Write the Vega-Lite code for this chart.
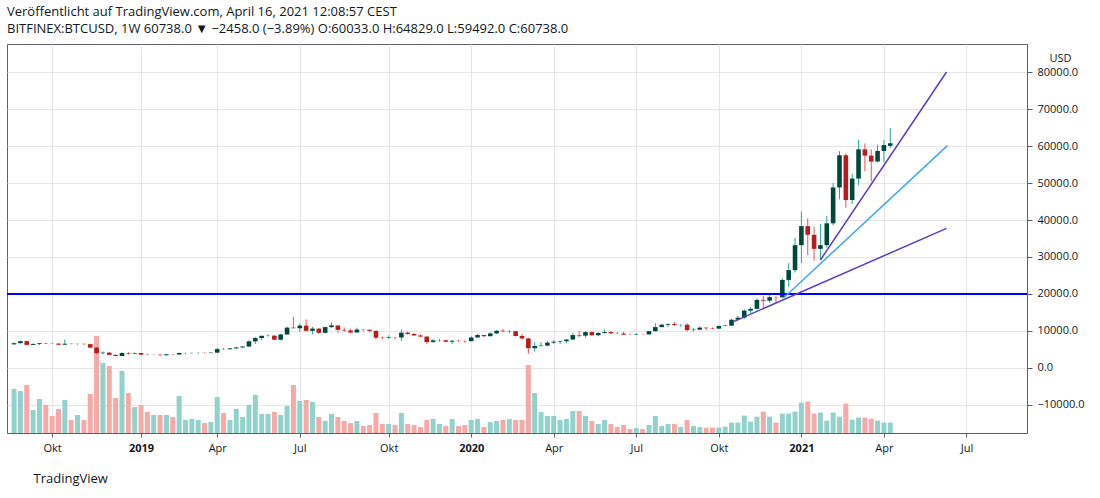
{
  "$schema": "https://vega.github.io/schema/vega-lite/v6.json",
  "description": "BITFINEX:BTCUSD weekly candles with volume, 20000 level and three trend lines",
  "width": 1020,
  "height": 389,
  "autosize": "none",
  "padding": {"left": 7, "top": 44, "right": 73, "bottom": 65},
  "background": "white",
  "config": {
    "font": "Open Sans",
    "view": {"stroke": "#5d606b", "strokeWidth": 1},
    "axis": {"labelFont": "Open Sans", "titleFont": "Open Sans", "labelColor": "#131722", "titleColor": "#131722"}
  },
  "title": {
    "text": "Veröffentlicht auf TradingView.com, April 16, 2021 12:08:57 CEST",
    "subtitle": "BITFINEX:BTCUSD, 1W  60738.0 ▼ −2458.0 (−3.89%)  O:60033.0  H:64829.0  L:59492.0  C:60738.0",
    "anchor": "start",
    "frame": "group",
    "offset": 8,
    "fontSize": 13,
    "fontWeight": "normal",
    "color": "#131722",
    "subtitleFontSize": 13,
    "subtitleFontWeight": "normal",
    "subtitleColor": "#131722",
    "subtitlePadding": 4
  },
  "data": {
    "values": [
      {"date": "2018-08-20", "open": 6400, "high": 6900, "low": 6300, "close": 6700, "volume": 220000},
      {"date": "2018-08-27", "open": 6700, "high": 7400, "low": 6650, "close": 7250, "volume": 210000},
      {"date": "2018-09-03", "open": 7250, "high": 7400, "low": 6100, "close": 6250, "volume": 240000},
      {"date": "2018-09-10", "open": 6250, "high": 6600, "low": 6150, "close": 6500, "volume": 115000},
      {"date": "2018-09-17", "open": 6500, "high": 6800, "low": 6200, "close": 6700, "volume": 170000},
      {"date": "2018-09-24", "open": 6700, "high": 6850, "low": 6500, "close": 6620, "volume": 140000},
      {"date": "2018-10-01", "open": 6620, "high": 6700, "low": 6500, "close": 6580, "volume": 85000},
      {"date": "2018-10-08", "open": 6580, "high": 6700, "low": 6150, "close": 6300, "volume": 120000},
      {"date": "2018-10-15", "open": 6300, "high": 7700, "low": 6300, "close": 6550, "volume": 165000},
      {"date": "2018-10-22", "open": 6550, "high": 6600, "low": 6400, "close": 6480, "volume": 65000},
      {"date": "2018-10-29", "open": 6480, "high": 6550, "low": 6300, "close": 6520, "volume": 90000},
      {"date": "2018-11-05", "open": 6520, "high": 6600, "low": 6300, "close": 6450, "volume": 65000},
      {"date": "2018-11-12", "open": 6450, "high": 6550, "low": 5300, "close": 5500, "volume": 195000},
      {"date": "2018-11-19", "open": 5500, "high": 5650, "low": 3700, "close": 4000, "volume": 485000},
      {"date": "2018-11-26", "open": 4000, "high": 4500, "low": 3650, "close": 4150, "volume": 350000},
      {"date": "2018-12-03", "open": 4150, "high": 4350, "low": 3450, "close": 3550, "volume": 335000},
      {"date": "2018-12-10", "open": 3550, "high": 3650, "low": 3200, "close": 3250, "volume": 175000},
      {"date": "2018-12-17", "open": 3250, "high": 4250, "low": 3250, "close": 4050, "volume": 310000},
      {"date": "2018-12-24", "open": 4050, "high": 4250, "low": 3600, "close": 3900, "volume": 200000},
      {"date": "2018-12-31", "open": 3900, "high": 4150, "low": 3700, "close": 4050, "volume": 130000},
      {"date": "2019-01-07", "open": 4050, "high": 4100, "low": 3500, "close": 3600, "volume": 140000},
      {"date": "2019-01-14", "open": 3600, "high": 3750, "low": 3500, "close": 3560, "volume": 105000},
      {"date": "2019-01-21", "open": 3560, "high": 3650, "low": 3450, "close": 3580, "volume": 90000},
      {"date": "2019-01-28", "open": 3580, "high": 3650, "low": 3350, "close": 3450, "volume": 90000},
      {"date": "2019-02-04", "open": 3450, "high": 3750, "low": 3400, "close": 3700, "volume": 90000},
      {"date": "2019-02-11", "open": 3700, "high": 3750, "low": 3600, "close": 3650, "volume": 80000},
      {"date": "2019-02-18", "open": 3650, "high": 4200, "low": 3600, "close": 4050, "volume": 185000},
      {"date": "2019-02-25", "open": 4050, "high": 4100, "low": 3700, "close": 4060, "volume": 65000},
      {"date": "2019-03-04", "open": 4060, "high": 4100, "low": 3800, "close": 4080, "volume": 70000},
      {"date": "2019-03-11", "open": 4080, "high": 4200, "low": 3850, "close": 4100, "volume": 65000},
      {"date": "2019-03-18", "open": 4100, "high": 4150, "low": 3950, "close": 4050, "volume": 50000},
      {"date": "2019-03-25", "open": 4050, "high": 4200, "low": 3900, "close": 4150, "volume": 55000},
      {"date": "2019-04-01", "open": 4150, "high": 5450, "low": 4100, "close": 5100, "volume": 180000},
      {"date": "2019-04-08", "open": 5100, "high": 5450, "low": 4950, "close": 5050, "volume": 100000},
      {"date": "2019-04-15", "open": 5050, "high": 5400, "low": 5000, "close": 5300, "volume": 65000},
      {"date": "2019-04-22", "open": 5300, "high": 5650, "low": 5100, "close": 5550, "volume": 120000},
      {"date": "2019-04-29", "open": 5550, "high": 5900, "low": 5450, "close": 5800, "volume": 80000},
      {"date": "2019-05-06", "open": 5800, "high": 7500, "low": 5750, "close": 7200, "volume": 140000},
      {"date": "2019-05-13", "open": 7200, "high": 8350, "low": 6500, "close": 8100, "volume": 190000},
      {"date": "2019-05-20", "open": 8100, "high": 8750, "low": 7600, "close": 8700, "volume": 95000},
      {"date": "2019-05-27", "open": 8700, "high": 9100, "low": 8500, "close": 8750, "volume": 95000},
      {"date": "2019-06-03", "open": 8750, "high": 8800, "low": 7500, "close": 7650, "volume": 105000},
      {"date": "2019-06-10", "open": 7650, "high": 9300, "low": 7500, "close": 9050, "volume": 90000},
      {"date": "2019-06-17", "open": 9050, "high": 11200, "low": 9050, "close": 10900, "volume": 135000},
      {"date": "2019-06-24", "open": 10900, "high": 13850, "low": 10700, "close": 10750, "volume": 240000},
      {"date": "2019-07-01", "open": 10750, "high": 12000, "low": 9800, "close": 11450, "volume": 160000},
      {"date": "2019-07-08", "open": 11450, "high": 13150, "low": 9900, "close": 10050, "volume": 165000},
      {"date": "2019-07-15", "open": 10050, "high": 11100, "low": 9100, "close": 10650, "volume": 155000},
      {"date": "2019-07-22", "open": 10650, "high": 10700, "low": 9200, "close": 9500, "volume": 80000},
      {"date": "2019-07-29", "open": 9500, "high": 11200, "low": 9400, "close": 11050, "volume": 60000},
      {"date": "2019-08-05", "open": 11050, "high": 12300, "low": 10800, "close": 11500, "volume": 95000},
      {"date": "2019-08-12", "open": 11500, "high": 11500, "low": 9500, "close": 10300, "volume": 80000},
      {"date": "2019-08-19", "open": 10300, "high": 10950, "low": 9800, "close": 10150, "volume": 60000},
      {"date": "2019-08-26", "open": 10150, "high": 10600, "low": 9350, "close": 9600, "volume": 50000},
      {"date": "2019-09-02", "open": 9600, "high": 10900, "low": 9600, "close": 10400, "volume": 60000},
      {"date": "2019-09-09", "open": 10400, "high": 10500, "low": 9900, "close": 10350, "volume": 35000},
      {"date": "2019-09-16", "open": 10350, "high": 10400, "low": 9600, "close": 10050, "volume": 40000},
      {"date": "2019-09-23", "open": 10050, "high": 10050, "low": 7700, "close": 8200, "volume": 100000},
      {"date": "2019-09-30", "open": 8200, "high": 8500, "low": 7800, "close": 8150, "volume": 45000},
      {"date": "2019-10-07", "open": 8150, "high": 8800, "low": 7900, "close": 8300, "volume": 45000},
      {"date": "2019-10-14", "open": 8300, "high": 8400, "low": 7900, "close": 8250, "volume": 40000},
      {"date": "2019-10-21", "open": 8250, "high": 10400, "low": 7300, "close": 9550, "volume": 100000},
      {"date": "2019-10-28", "open": 9550, "high": 9900, "low": 9000, "close": 9200, "volume": 45000},
      {"date": "2019-11-04", "open": 9200, "high": 9500, "low": 8700, "close": 8800, "volume": 40000},
      {"date": "2019-11-11", "open": 8800, "high": 9100, "low": 8300, "close": 8500, "volume": 30000},
      {"date": "2019-11-18", "open": 8500, "high": 8500, "low": 6500, "close": 7000, "volume": 65000},
      {"date": "2019-11-25", "open": 7000, "high": 7800, "low": 6850, "close": 7450, "volume": 70000},
      {"date": "2019-12-02", "open": 7450, "high": 7800, "low": 7100, "close": 7500, "volume": 45000},
      {"date": "2019-12-09", "open": 7500, "high": 7650, "low": 6950, "close": 7100, "volume": 35000},
      {"date": "2019-12-16", "open": 7100, "high": 7550, "low": 6450, "close": 7350, "volume": 70000},
      {"date": "2019-12-23", "open": 7350, "high": 7650, "low": 7100, "close": 7300, "volume": 35000},
      {"date": "2019-12-30", "open": 7300, "high": 7500, "low": 6850, "close": 7250, "volume": 40000},
      {"date": "2020-01-06", "open": 7250, "high": 8550, "low": 7250, "close": 8250, "volume": 65000},
      {"date": "2020-01-13", "open": 8250, "high": 9200, "low": 8200, "close": 8900, "volume": 70000},
      {"date": "2020-01-20", "open": 8900, "high": 8950, "low": 8300, "close": 8600, "volume": 30000},
      {"date": "2020-01-27", "open": 8600, "high": 9600, "low": 8500, "close": 9350, "volume": 55000},
      {"date": "2020-02-03", "open": 9350, "high": 10200, "low": 9200, "close": 10050, "volume": 60000},
      {"date": "2020-02-10", "open": 10050, "high": 10500, "low": 9650, "close": 9900, "volume": 65000},
      {"date": "2020-02-17", "open": 9900, "high": 10250, "low": 9300, "close": 9950, "volume": 70000},
      {"date": "2020-02-24", "open": 9950, "high": 10050, "low": 8500, "close": 8650, "volume": 65000},
      {"date": "2020-03-02", "open": 8650, "high": 9200, "low": 7650, "close": 8000, "volume": 65000},
      {"date": "2020-03-09", "open": 8000, "high": 8150, "low": 3850, "close": 5350, "volume": 340000},
      {"date": "2020-03-16", "open": 5350, "high": 6950, "low": 4400, "close": 5950, "volume": 200000},
      {"date": "2020-03-23", "open": 5950, "high": 7000, "low": 5700, "close": 6050, "volume": 105000},
      {"date": "2020-03-30", "open": 6050, "high": 7350, "low": 5900, "close": 6850, "volume": 85000},
      {"date": "2020-04-06", "open": 6850, "high": 7500, "low": 6500, "close": 7100, "volume": 85000},
      {"date": "2020-04-13", "open": 7100, "high": 7300, "low": 6500, "close": 7250, "volume": 65000},
      {"date": "2020-04-20", "open": 7250, "high": 7800, "low": 6800, "close": 7700, "volume": 70000},
      {"date": "2020-04-27", "open": 7700, "high": 9500, "low": 7650, "close": 8900, "volume": 110000},
      {"date": "2020-05-04", "open": 8900, "high": 10050, "low": 8250, "close": 8750, "volume": 110000},
      {"date": "2020-05-11", "open": 8750, "high": 9950, "low": 8250, "close": 9700, "volume": 85000},
      {"date": "2020-05-18", "open": 9700, "high": 9900, "low": 8650, "close": 8850, "volume": 60000},
      {"date": "2020-05-25", "open": 8850, "high": 9750, "low": 8650, "close": 9450, "volume": 45000},
      {"date": "2020-06-01", "open": 9450, "high": 10400, "low": 9300, "close": 9700, "volume": 65000},
      {"date": "2020-06-08", "open": 9700, "high": 10000, "low": 9200, "close": 9350, "volume": 45000},
      {"date": "2020-06-15", "open": 9350, "high": 9750, "low": 9100, "close": 9300, "volume": 30000},
      {"date": "2020-06-22", "open": 9300, "high": 9800, "low": 8900, "close": 9000, "volume": 40000},
      {"date": "2020-06-29", "open": 9000, "high": 9350, "low": 8950, "close": 8980, "volume": 20000},
      {"date": "2020-07-06", "open": 8980, "high": 9450, "low": 8950, "close": 9100, "volume": 25000},
      {"date": "2020-07-13", "open": 9100, "high": 9250, "low": 9050, "close": 9080, "volume": 20000},
      {"date": "2020-07-20", "open": 9080, "high": 10000, "low": 9050, "close": 9950, "volume": 40000},
      {"date": "2020-07-27", "open": 9950, "high": 12100, "low": 9850, "close": 11050, "volume": 85000},
      {"date": "2020-08-03", "open": 11050, "high": 11900, "low": 11000, "close": 11700, "volume": 35000},
      {"date": "2020-08-10", "open": 11700, "high": 12100, "low": 11100, "close": 11900, "volume": 45000},
      {"date": "2020-08-17", "open": 11900, "high": 12450, "low": 11350, "close": 11650, "volume": 45000},
      {"date": "2020-08-24", "open": 11650, "high": 11800, "low": 11100, "close": 11700, "volume": 30000},
      {"date": "2020-08-31", "open": 11700, "high": 12100, "low": 9900, "close": 10250, "volume": 65000},
      {"date": "2020-09-07", "open": 10250, "high": 10800, "low": 9850, "close": 10350, "volume": 35000},
      {"date": "2020-09-14", "open": 10350, "high": 11200, "low": 10200, "close": 10900, "volume": 30000},
      {"date": "2020-09-21", "open": 10900, "high": 10950, "low": 10150, "close": 10750, "volume": 27000},
      {"date": "2020-09-28", "open": 10750, "high": 10950, "low": 10450, "close": 10650, "volume": 27000},
      {"date": "2020-10-05", "open": 10650, "high": 11500, "low": 10550, "close": 11350, "volume": 27000},
      {"date": "2020-10-12", "open": 11350, "high": 11700, "low": 11200, "close": 11450, "volume": 32000},
      {"date": "2020-10-19", "open": 11450, "high": 13250, "low": 11400, "close": 13050, "volume": 52000},
      {"date": "2020-10-26", "open": 13050, "high": 14100, "low": 12900, "close": 13600, "volume": 52000},
      {"date": "2020-11-02", "open": 13600, "high": 15950, "low": 13250, "close": 15500, "volume": 87000},
      {"date": "2020-11-09", "open": 15500, "high": 16500, "low": 14800, "close": 16000, "volume": 57000},
      {"date": "2020-11-16", "open": 16000, "high": 18800, "low": 15800, "close": 18400, "volume": 82000},
      {"date": "2020-11-23", "open": 18400, "high": 19500, "low": 16300, "close": 18200, "volume": 107000},
      {"date": "2020-11-30", "open": 18200, "high": 19900, "low": 17600, "close": 19150, "volume": 82000},
      {"date": "2020-12-07", "open": 19150, "high": 19400, "low": 17600, "close": 19100, "volume": 52000},
      {"date": "2020-12-14", "open": 19100, "high": 24200, "low": 19000, "close": 23800, "volume": 97000},
      {"date": "2020-12-21", "open": 23800, "high": 28300, "low": 21900, "close": 26450, "volume": 97000},
      {"date": "2020-12-28", "open": 26450, "high": 35200, "low": 25800, "close": 33200, "volume": 107000},
      {"date": "2021-01-04", "open": 33200, "high": 42250, "low": 28400, "close": 38350, "volume": 152000},
      {"date": "2021-01-11", "open": 38350, "high": 40450, "low": 30500, "close": 36000, "volume": 157000},
      {"date": "2021-01-18", "open": 36000, "high": 38200, "low": 29000, "close": 32200, "volume": 97000},
      {"date": "2021-01-25", "open": 32200, "high": 38900, "low": 29200, "close": 33200, "volume": 102000},
      {"date": "2021-02-01", "open": 33200, "high": 41050, "low": 32500, "close": 39100, "volume": 62000},
      {"date": "2021-02-08", "open": 39100, "high": 50000, "low": 38500, "close": 48800, "volume": 102000},
      {"date": "2021-02-15", "open": 48800, "high": 58600, "low": 45600, "close": 57500, "volume": 82000},
      {"date": "2021-02-22", "open": 57500, "high": 58000, "low": 43300, "close": 45400, "volume": 147000},
      {"date": "2021-03-01", "open": 45400, "high": 52500, "low": 44300, "close": 51200, "volume": 67000},
      {"date": "2021-03-08", "open": 51200, "high": 61700, "low": 49400, "close": 59100, "volume": 77000},
      {"date": "2021-03-15", "open": 59100, "high": 60700, "low": 53200, "close": 57400, "volume": 77000},
      {"date": "2021-03-22", "open": 57400, "high": 59100, "low": 50400, "close": 55800, "volume": 72000},
      {"date": "2021-03-29", "open": 55800, "high": 60400, "low": 55600, "close": 58650, "volume": 62000},
      {"date": "2021-04-05", "open": 58650, "high": 61600, "low": 55600, "close": 60250, "volume": 52000},
      {"date": "2021-04-12", "open": 60033, "high": 64829, "low": 59492, "close": 60738, "volume": 52000}
    ]
  },
  "resolve": {"scale": {"y": "independent"}, "axis": {"y": "independent"}},
  "layer": [
    {
      "mark": {"type": "bar", "size": 5, "clip": true},
      "encoding": {
        "x": {
          "field": "date",
          "type": "temporal",
          "scale": {
            "type": "utc",
            "domain": [
              {"year": 2018, "month": 8, "date": 17, "hours": 18, "utc": true},
              {"year": 2021, "month": 9, "date": 4, "hours": 5, "utc": true}
            ]
          },
          "axis": {
            "values": [
              {"year": 2018, "month": 10, "date": 1, "utc": true},
              {"year": 2019, "month": 1, "date": 7, "utc": true},
              {"year": 2019, "month": 4, "date": 1, "utc": true},
              {"year": 2019, "month": 7, "date": 1, "utc": true},
              {"year": 2019, "month": 10, "date": 7, "utc": true},
              {"year": 2020, "month": 1, "date": 6, "utc": true},
              {"year": 2020, "month": 4, "date": 6, "utc": true},
              {"year": 2020, "month": 7, "date": 6, "utc": true},
              {"year": 2020, "month": 10, "date": 5, "utc": true},
              {"year": 2021, "month": 1, "date": 4, "utc": true},
              {"year": 2021, "month": 4, "date": 5, "utc": true},
              {"year": 2021, "month": 7, "date": 5, "utc": true}
            ],
            "labelExpr": "utcmonth(datum.value) == 0 ? '' + utcyear(datum.value) : (utcmonth(datum.value) == 3 ? 'Apr' : (utcmonth(datum.value) == 6 ? 'Jul' : 'Okt'))",
            "labelFontWeight": {"condition": {"test": "utcmonth(datum.value) == 0", "value": "bold"}, "value": "normal"},
            "labelFlush": false,
            "labelFontSize": 11,
            "labelPadding": 5,
            "grid": true,
            "gridColor": "#e6e6e8",
            "tickSize": 4,
            "tickColor": "#5d606b",
            "domainColor": "#5d606b",
            "title": "TradingView",
            "titleAnchor": "start",
            "titleAlign": "left",
            "titleX": 26,
            "titlePadding": 19,
            "titleFontSize": 13,
            "titleFontWeight": "normal"
          }
        },
        "y": {
          "field": "volume",
          "type": "quantitative",
          "scale": {"domain": [0, 1945000], "nice": false},
          "axis": null
        },
        "color": {
          "condition": {"test": "datum.close >= datum.open", "value": "#92d2cc"},
          "value": "#f7a9a7"
        }
      }
    },
    {
      "mark": {"type": "rule", "strokeWidth": 1, "clip": true},
      "encoding": {
        "x": {"field": "date", "type": "temporal", "scale": {"type": "utc"}},
        "y": {
          "field": "low",
          "type": "quantitative",
          "scale": {"domain": [-17568, 87568], "nice": false, "zero": false},
          "axis": {
            "orient": "right",
            "values": [-10000, 0, 10000, 20000, 30000, 40000, 50000, 60000, 70000, 80000],
            "format": ".1f",
            "grid": true,
            "gridColor": "#e6e6e8",
            "tickSize": 5,
            "tickColor": "#5d606b",
            "domainColor": "#5d606b",
            "labelFontSize": 11,
            "labelPadding": 5,
            "title": "USD",
            "titleAngle": 0,
            "titleX": 33,
            "titleY": 14,
            "titleAlign": "center",
            "titleBaseline": "middle",
            "titleFontSize": 11,
            "titleFontWeight": "normal"
          }
        },
        "y2": {"field": "high"},
        "color": {
          "condition": {"test": "datum.close >= datum.open", "value": "#26a69a"},
          "value": "#ef5350"
        }
      }
    },
    {
      "mark": {"type": "bar", "size": 4.6, "minBandSize": 1.2, "clip": true},
      "encoding": {
        "x": {"field": "date", "type": "temporal", "scale": {"type": "utc"}},
        "y": {
          "field": "open",
          "type": "quantitative",
          "scale": {"domain": [-17568, 87568], "nice": false, "zero": false},
          "axis": null
        },
        "y2": {"field": "close"},
        "color": {
          "condition": {"test": "datum.close >= datum.open", "value": "#00473b"},
          "value": "#b71c1c"
        }
      }
    },
    {
      "data": {"values": [{"level": 20000}]},
      "mark": {"type": "rule", "color": "#0000ff", "strokeWidth": 2},
      "encoding": {
        "y": {
          "field": "level",
          "type": "quantitative",
          "scale": {"domain": [-17568, 87568], "nice": false, "zero": false},
          "axis": null
        }
      }
    },
    {
      "data": {
        "values": [
          {"line": "flach", "date": "2020-10-20", "value": 12400},
          {"line": "flach", "date": "2021-06-13", "value": 37750},
          {"line": "mittel", "date": "2020-12-15", "value": 18850},
          {"line": "mittel", "date": "2021-06-14", "value": 60100},
          {"line": "steil", "date": "2021-01-25", "value": 29200},
          {"line": "steil", "date": "2021-06-13", "value": 80000}
        ]
      },
      "mark": {"type": "line", "strokeWidth": 1.5, "clip": true},
      "encoding": {
        "x": {"field": "date", "type": "temporal", "scale": {"type": "utc"}},
        "y": {
          "field": "value",
          "type": "quantitative",
          "scale": {"domain": [-17568, 87568], "nice": false, "zero": false},
          "axis": null
        },
        "color": {
          "field": "line",
          "type": "nominal",
          "scale": {"domain": ["flach", "mittel", "steil"], "range": ["#5b3cc4", "#42a5f5", "#5b3cc4"]},
          "legend": null
        }
      }
    }
  ]
}
